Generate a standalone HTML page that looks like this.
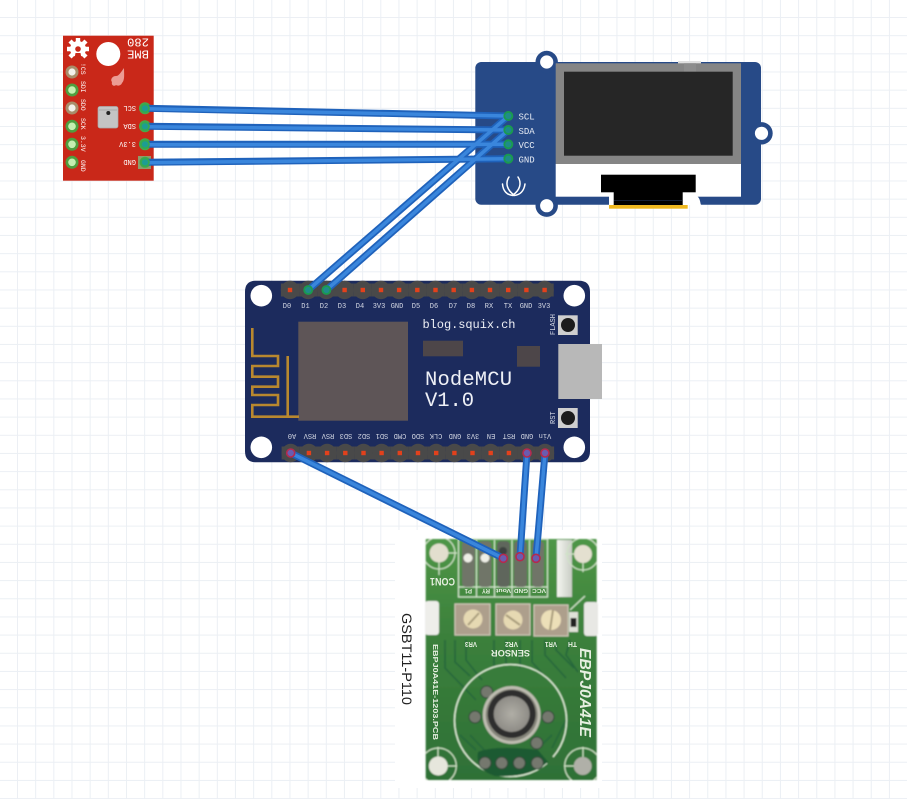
<!DOCTYPE html>
<html><head><meta charset="utf-8"><title>Diagram</title>
<style>
html,body{margin:0;padding:0;background:#fff}
svg{display:block}
text{font-family:"Liberation Mono",monospace}
.s{font-family:"Liberation Sans",sans-serif}
</style></head><body>
<svg width="907" height="799" viewBox="0 0 907 799" xmlns="http://www.w3.org/2000/svg">
<defs>
<pattern id="grid" x="17" y="17" width="18.165" height="18.165" patternUnits="userSpaceOnUse">
<path d="M.5 0V18.165M0 .5H18.165" stroke="#ebeff4" stroke-width="1" fill="none"/>
</pattern>
<filter id="b" x="-5%" y="-5%" width="110%" height="110%"><feGaussianBlur stdDeviation="0.9"/></filter>
<filter id="b2" x="-5%" y="-5%" width="110%" height="110%"><feGaussianBlur stdDeviation="0.3"/></filter>
<clipPath id="pc"><rect x="425.700" y="539" width="171" height="241"/></clipPath>
<g id="hp"><circle cx="0" cy="0" r="9.2" fill="#494949"/><rect x="-9.1" y="-6.500" width="18.2" height="13" fill="#494949"/><rect x="-2.2" y="-2.2" width="4.4" height="4.4" fill="#e2411c"/></g>
<radialGradient id="mesh"><stop offset="0" stop-color="#b0aea6"/><stop offset="1" stop-color="#8e8c86"/></radialGradient>
<linearGradient id="slot" x1="0" x2="1"><stop offset="0" stop-color="#f4f6f0"/><stop offset="1" stop-color="#c8ccc4"/></linearGradient>
<linearGradient id="pcbg" x1="0" x2="0" y1="0" y2="1"><stop offset="0" stop-color="#4e9646"/><stop offset=".4" stop-color="#3b803b"/><stop offset="1" stop-color="#2e7036"/></linearGradient>
</defs>
<rect width="907" height="799" fill="#fff"/>
<rect x="0" y="0" width="907" height="799" fill="url(#grid)"/>

<!-- white image background -->
<rect x="395" y="530" width="207" height="258" fill="#fff"/>

<!-- BME280 -->
<rect x="63" y="35.700" width="90.700" height="145" fill="#c92819"/>
<g fill="#fff">
<circle cx="108.300" cy="54" r="12"/>
<g transform="translate(78,49)">
<circle r="8"/>
<g stroke="#fff" stroke-width="4.400"><path d="M0-11V11M-11 0H11M-8-8L8 8M-8 8L8-8"/></g>
<circle r="2.800" fill="#c92819"/>
<path d="M-2.500 4L2.500 4L4 12L-4 12Z" fill="#c92819"/>
</g>
</g>
<path d="M124 68C124 74 125 80 122 83C121 86 117 86 116 85C114 87 111 85 112 82C110 80 112 76 116 76C119 76 121 72 124 68Z" fill="#ec9c94"/>
<text transform="translate(149 38.500) rotate(180)" fill="#fff" font-size="12" textLength="22" lengthAdjust="spacingAndGlyphs">280</text>
<text transform="translate(149 50.500) rotate(180)" fill="#fff" font-size="12" textLength="22" lengthAdjust="spacingAndGlyphs">BME</text>
<rect x="98" y="106.500" width="20" height="21.500" rx="2" fill="#c4c4c4" stroke="#aaa" stroke-width=".7"/>
<path d="M99 110H117" stroke="#a0a0a0" stroke-width=".7"/>
<circle cx="108.300" cy="113" r="2" fill="#222"/>
<!-- left pads -->
<circle cx="72" cy="72" r="6.500" fill="#a88d6a"/><circle cx="72" cy="72" r="3.600" fill="#f2f0ea"/>
<circle cx="72" cy="90" r="6.500" fill="#4f9e3f"/><circle cx="72" cy="90" r="3.800" fill="#c5eeb0"/>
<circle cx="72" cy="108" r="6.500" fill="#a88d6a"/><circle cx="72" cy="108" r="3.600" fill="#f2f0ea"/>
<circle cx="72" cy="126.300" r="6.500" fill="#4f9e3f"/><circle cx="72" cy="126.300" r="3.800" fill="#c5eeb0"/>
<circle cx="72" cy="144.300" r="6.500" fill="#4f9e3f"/><circle cx="72" cy="144.300" r="3.800" fill="#c5eeb0"/>
<circle cx="72" cy="162.300" r="6.500" fill="#4f9e3f"/><circle cx="72" cy="162.300" r="3.800" fill="#c5eeb0"/>
<g fill="#fff" font-size="6.500">
<text transform="translate(81 63) rotate(90)">!CS</text>
<text transform="translate(81 81) rotate(90)">SDI</text>
<text transform="translate(81 99) rotate(90)">SDO</text>
<text transform="translate(81 118) rotate(90)">SCK</text>
<text transform="translate(81 136) rotate(90)">3.3V</text>
<text transform="translate(81 160) rotate(90)">GND</text>
<text transform="translate(136 106) rotate(180)" font-size="7">SCL</text>
<text transform="translate(136 124) rotate(180)" font-size="7">SDA</text>
<text transform="translate(136 142) rotate(180)" font-size="7">3.3V</text>
<text transform="translate(136 160) rotate(180)" font-size="7">GND</text>
</g>
<rect x="138" y="156" width="13" height="13" fill="#8f9b6a"/>
<circle cx="145" cy="108.300" r="6" fill="#4aa84a"/>
<circle cx="145" cy="126.300" r="6" fill="#4aa84a"/>
<circle cx="145" cy="144.300" r="6" fill="#4aa84a"/>
<circle cx="145" cy="162.300" r="5.500" fill="#4aa84a"/>

<!-- OLED -->
<rect x="475.300" y="62" width="285.700" height="142.700" rx="6" fill="#274a87"/>
<circle cx="546.700" cy="62" r="11.200" fill="#274a87"/><circle cx="546.700" cy="62" r="6.600" fill="#fff"/>
<circle cx="546.700" cy="205.700" r="11.200" fill="#274a87"/><circle cx="546.700" cy="205.700" r="6.600" fill="#fff"/>
<circle cx="761.500" cy="133.300" r="11.200" fill="#274a87"/><circle cx="761.500" cy="133.300" r="6.600" fill="#fff"/>
<rect x="678" y="61" width="23" height="2.500" fill="#e0e0e0"/>
<rect x="555.700" y="164" width="185.300" height="32.700" fill="#fff"/>
<rect x="555.700" y="63.300" width="185.300" height="100.700" fill="#858585"/>
<rect x="684" y="63.300" width="12" height="8.400" fill="#8d8d8d"/>
<rect x="564" y="71.700" width="168.700" height="84" fill="#262626"/>
<path d="M609 196H697C701 199 700 205 701.500 205H609Z" fill="#fff"/>
<rect x="601" y="174.700" width="94.700" height="17.600" fill="#000"/>
<rect x="613.700" y="190" width="69" height="15.300" fill="#000"/>
<rect x="609" y="205" width="78.700" height="3.700" fill="#efb81f"/>
<path d="M614 200.500H682" stroke="#1e2b44" stroke-width=".7"/>
<g fill="#e6ebf4" font-size="9">
<text x="518.500" y="119.500">SCL</text>
<text x="518.500" y="133.800">SDA</text>
<text x="518.500" y="148">VCC</text>
<text x="518.500" y="162.500">GND</text>
</g>
<g fill="none" stroke="#fff" stroke-width="1.500" stroke-linecap="round">
<path d="M509 177C505 183 507 190 514 195"/>
<path d="M518 177C522 183 520 190 513 195"/>
<path d="M502.500 184C503 191 507 195 513 195.500"/>
<path d="M525 184C524 191 520 195 514 195.500"/>
</g>
<circle cx="508.300" cy="116" r="5" fill="#1a9a4f"/>
<circle cx="508.300" cy="130" r="5" fill="#1a9a4f"/>
<circle cx="508.300" cy="144.300" r="5" fill="#1a8c68"/>
<circle cx="508.300" cy="158.700" r="5" fill="#1a9a4f"/>

<!-- NodeMCU -->
<path d="M256 280.700H579Q590 280.700 590 291.700V344H602V399H590V451.300Q590 462.300 579 462.300H256Q245 462.300 245 451.300V291.700Q245 280.700 256 280.700Z" fill="#1c2b5d"/>
<circle cx="261.300" cy="295.700" r="10.800" fill="#fff"/>
<circle cx="574.300" cy="295.700" r="10.800" fill="#fff"/>
<circle cx="261.300" cy="447.300" r="10.800" fill="#fff"/>
<circle cx="574.300" cy="447.300" r="10.800" fill="#fff"/>
<rect x="558.300" y="344" width="43.700" height="55" fill="#b8b8b8"/>
<g>
<use href="#hp" x="290" y="290"/><use href="#hp" x="308.200" y="290"/><use href="#hp" x="326.400" y="290"/><use href="#hp" x="344.600" y="290"/><use href="#hp" x="362.800" y="290"/><use href="#hp" x="381" y="290"/><use href="#hp" x="399.100" y="290"/><use href="#hp" x="417.300" y="290"/><use href="#hp" x="435.500" y="290"/><use href="#hp" x="453.700" y="290"/><use href="#hp" x="471.900" y="290"/><use href="#hp" x="490" y="290"/><use href="#hp" x="508.200" y="290"/><use href="#hp" x="526.400" y="290"/><use href="#hp" x="544.600" y="290"/>
<use href="#hp" x="290.700" y="453"/><use href="#hp" x="308.900" y="453"/><use href="#hp" x="327.100" y="453"/><use href="#hp" x="345.300" y="453"/><use href="#hp" x="363.500" y="453"/><use href="#hp" x="381.600" y="453"/><use href="#hp" x="399.800" y="453"/><use href="#hp" x="418" y="453"/><use href="#hp" x="436.200" y="453"/><use href="#hp" x="454.400" y="453"/><use href="#hp" x="472.500" y="453"/><use href="#hp" x="490.700" y="453"/><use href="#hp" x="508.900" y="453"/><use href="#hp" x="527" y="453"/><use href="#hp" x="545" y="453"/>
</g>
<g fill="#d4d8e4" font-size="7" text-anchor="middle">
<text x="287" y="308">D0</text><text x="305.500" y="308">D1</text><text x="324" y="308">D2</text><text x="342" y="308">D3</text><text x="360" y="308">D4</text><text x="379" y="308">3V3</text><text x="397" y="308">GND</text><text x="416" y="308">D5</text><text x="434" y="308">D6</text><text x="453" y="308">D7</text><text x="471" y="308">D8</text><text x="489" y="308">RX</text><text x="508" y="308">TX</text><text x="526" y="308">GND</text><text x="544" y="308">3V3</text>
<text transform="translate(292 434) rotate(180)">A0</text>
<text transform="translate(310 434) rotate(180)">RSV</text>
<text transform="translate(328 434) rotate(180)">RSV</text>
<text transform="translate(346 434) rotate(180)">SD3</text>
<text transform="translate(364 434) rotate(180)">SD2</text>
<text transform="translate(382 434) rotate(180)">SD1</text>
<text transform="translate(400 434) rotate(180)">CMD</text>
<text transform="translate(418 434) rotate(180)">SDO</text>
<text transform="translate(436 434) rotate(180)">CLK</text>
<text transform="translate(455 434) rotate(180)">GND</text>
<text transform="translate(473 434) rotate(180)">3V3</text>
<text transform="translate(491 434) rotate(180)">EN</text>
<text transform="translate(509 434) rotate(180)">RST</text>
<text transform="translate(527 434) rotate(180)">GND</text>
<text transform="translate(545 434) rotate(180)">Vin</text>
</g>
<rect x="298.300" y="321.700" width="109.700" height="99" fill="#5e5557"/>
<rect x="423" y="340.700" width="40" height="15.600" fill="#4d4649"/>
<rect x="517" y="346" width="23" height="20.700" fill="#4d4649"/>
<g fill="none" stroke="#b8882f" stroke-width="2.600">
<path d="M252.300 328V356H278V366H252.300V376.700H278V386.700H252.300V395H278V405H252.300V416.700H299"/>
<path d="M287.700 356V416.700"/>
</g>
<text x="422.500" y="328" fill="#eef0f6" font-size="12" textLength="93">blog.squix.ch</text>
<text x="425" y="385" fill="#eef0f6" font-size="20.500" textLength="87">NodeMCU</text>
<text x="425" y="406" fill="#eef0f6" font-size="20.500" textLength="49">V1.0</text>
<rect x="558" y="315.300" width="19.700" height="19.700" fill="#cfcfcf"/><circle cx="568" cy="325" r="7" fill="#1c1c1c"/>
<rect x="558" y="408" width="19.700" height="20" fill="#cfcfcf"/><circle cx="568" cy="418" r="7" fill="#1c1c1c"/>
<g fill="#d4d8e4" font-size="7">
<text transform="translate(555 335) rotate(-90)">FLASH</text>
<text transform="translate(555 424) rotate(-90)">RST</text>
</g>

<!-- Gas sensor PCB -->
<g filter="url(#b)">
<rect x="425.700" y="539" width="171" height="241" rx="1" fill="url(#pcbg)"/>
<rect x="557" y="540" width="15" height="57" fill="url(#slot)"/>
<rect x="425" y="601" width="14" height="34" rx="3" fill="#eeeeea"/>
<rect x="584" y="602" width="14" height="34" rx="3" fill="#e8e8e4"/>
<g fill="none" stroke="#26683a" stroke-width="1.600">
<path d="M445 640L445 668L476 700M455 640L455 662L470 676M466 640V660L482 680M494 640V668M506 640V665M520 640V668M532 640V662L548 680M545 640L545 655L566 678M556 642V650L574 668M570 640L566 655L578 672"/>
<path d="M460 735L476 750M470 735L490 756M552 735L530 756M566 720L552 748"/>
</g>
<!-- corner mounts -->
<g clip-path="url(#pc)">
<g fill="none" stroke="#cfe3c6" stroke-width="1.200">
<circle cx="439" cy="553" r="16"/>
<circle cx="583" cy="554" r="16"/>
<circle cx="438.300" cy="766" r="18"/>
<circle cx="582.700" cy="766" r="18"/>
<path d="M439 562V575M448 553H457M583 563V572M574 554H565M438 757V747M447 766H457M583 757V747M574 766H564"/>
</g>
</g>
<circle cx="439" cy="553" r="9.500" fill="#e2dece"/>
<circle cx="583" cy="554" r="9" fill="#e4e0d0"/>
<circle cx="438.300" cy="766" r="9.500" fill="#e6e6dc"/>
<circle cx="582.700" cy="766" r="9" fill="#b0b0a8"/>
<!-- terminal block -->
<rect x="458.500" y="539" width="89" height="58" fill="none" stroke="#d6e8cf" stroke-width="1.200"/>
<path d="M458.500 587H547.500M476.500 540V597M494.500 540V597M512 540V597M529.500 540V597" stroke="#d6e8cf" stroke-width="1.200"/>
<rect x="462" y="541" width="13" height="46" rx="4" fill="#6f7468"/>
<rect x="478.500" y="541" width="13" height="46" rx="4" fill="#6f7468"/>
<rect x="497" y="541" width="13" height="46" rx="4" fill="#5f665c"/>
<rect x="514" y="541" width="13" height="46" rx="4" fill="#6a7064"/>
<rect x="532" y="541" width="12" height="46" rx="4" fill="#6f7468"/>
<circle cx="468" cy="558" r="4.500" fill="#eeeee6"/>
<circle cx="485" cy="558" r="4.500" fill="#eeeee6"/>
<circle cx="503" cy="551" r="4" fill="#3c4240"/>
<!-- pots -->
<g fill="#ad9f8c" stroke="#cfc8b8" stroke-width="1.200">
<rect x="455" y="604" width="35" height="31"/>
<rect x="496" y="604" width="34" height="31"/>
<rect x="534" y="605" width="34" height="31"/>
</g>
<circle cx="473" cy="619" r="9.500" fill="#e6d9b2"/><path d="M468 625L479 613" stroke="#a89c7c" stroke-width="2"/>
<circle cx="513" cy="620" r="9.500" fill="#e6d9b2"/><path d="M506 615L520 625" stroke="#a89c7c" stroke-width="2"/>
<circle cx="551" cy="620" r="10" fill="#ecdfb8"/><path d="M553 610L550 630" stroke="#a89c7c" stroke-width="2"/>
<rect x="569" y="612" width="9" height="20" fill="#dfe2d8"/><rect x="570.500" y="618" width="6" height="9" fill="#222"/>
<path d="M570 610L585 596" stroke="#cfe2c8" stroke-width="1.300"/>
<!-- ring and sensor -->
<path d="M547 763A56 56 0 1 1 553 757" fill="none" stroke="#dcebd4" stroke-width="1.500"/>
<path d="M478 752Q495 745 538 750L548 762Q530 778 495 776Q475 770 478 752Z" fill="#1f5a30"/>
<g fill="#74786e" stroke="#33483a" stroke-width="1">
<circle cx="475" cy="717" r="6"/><circle cx="548" cy="717" r="6"/><circle cx="486.700" cy="692" r="6"/><circle cx="536.700" cy="743" r="6"/>
<circle cx="485" cy="763" r="6"/><circle cx="501.700" cy="763" r="6"/><circle cx="519.300" cy="763" r="6"/><circle cx="537.300" cy="763" r="6"/>
</g>
<circle cx="511.700" cy="715" r="29" fill="#bdbcb0"/>
<circle cx="511.700" cy="715" r="26" fill="#85857a"/>
<circle cx="511.700" cy="714" r="24" fill="#2f2f2e"/>
<circle cx="511.700" cy="714" r="18" fill="url(#mesh)"/>
</g>
<g filter="url(#b2)" fill="#e6efe0">
<text class="s" transform="translate(472 589) rotate(180)" font-size="6" font-weight="bold">P1</text>
<text class="s" transform="translate(490 589) rotate(180)" font-size="6" font-weight="bold">RY</text>
<text class="s" transform="translate(511 589) rotate(180)" font-size="5" font-weight="bold" textLength="15" lengthAdjust="spacingAndGlyphs">Vout</text>
<text class="s" transform="translate(528 589) rotate(180)" font-size="5.500" font-weight="bold" textLength="14" lengthAdjust="spacingAndGlyphs">GND</text>
<text class="s" transform="translate(546 589) rotate(180)" font-size="5.500" font-weight="bold" textLength="14" lengthAdjust="spacingAndGlyphs">VCC</text>
<text class="s" transform="translate(455 578) rotate(180)" font-size="11" font-weight="bold" textLength="25" lengthAdjust="spacingAndGlyphs">CON1</text>
<text class="s" transform="translate(477 642) rotate(180)" font-size="7.500" font-weight="bold" textLength="12" lengthAdjust="spacingAndGlyphs">VR3</text>
<text class="s" transform="translate(518 642) rotate(180)" font-size="7.500" font-weight="bold" textLength="13" lengthAdjust="spacingAndGlyphs">VR2</text>
<text class="s" transform="translate(557 642) rotate(180)" font-size="7.500" font-weight="bold" textLength="12" lengthAdjust="spacingAndGlyphs">VR1</text>
<text class="s" transform="translate(577 642) rotate(180)" font-size="7.500" font-weight="bold" textLength="9" lengthAdjust="spacingAndGlyphs">TH</text>
<text class="s" transform="translate(530 650) rotate(180)" font-size="9" font-weight="bold" textLength="39" lengthAdjust="spacingAndGlyphs">SENSOR</text>
<text class="s" transform="translate(433 644) rotate(90)" font-size="7.500" font-weight="bold" textLength="96" lengthAdjust="spacingAndGlyphs">EBPJ0A41E-1203.PCB</text>
<text class="s" transform="translate(580 648) rotate(90)" font-size="15.500" font-weight="bold" font-style="italic" textLength="89" lengthAdjust="spacingAndGlyphs">EBPJ0A41E</text>
</g>
<text class="s" transform="translate(402 613) rotate(90)" fill="#222" font-size="14" textLength="92" lengthAdjust="spacingAndGlyphs">GSBT11-P110</text>

<!-- wires -->
<g fill="none" stroke-linecap="round">
<g stroke="#1f62bb" stroke-width="7">
<path d="M145 108.300L508.300 116"/><path d="M145 126.300L508.300 130"/><path d="M145 144.300L508.300 144.300"/><path d="M145 162.300L508.300 158.700"/>
<path d="M308.200 290L508.300 116"/><path d="M326.400 290L508.300 130"/>
<path d="M290.700 453L503.300 558.300"/><path d="M527 453L520 556.700"/><path d="M545 453L536 558.300"/>
</g>
<g stroke="#3a86dc" stroke-width="3.500">
<path d="M145 108.800L508.300 116"/><path d="M145 126.800L508.300 130"/><path d="M145 144.800L508.300 144.300"/><path d="M145 162.800L508.300 158.700"/>
<path d="M308.200 290L508.300 116"/><path d="M326.400 290L508.300 130"/>
<path d="M290.700 453L503.300 558.300"/><path d="M527 453L520 556.700"/><path d="M545 453L536 558.300"/>
</g>
</g>
<!-- wire ends -->
<g fill="#1d9d93" stroke="#35a950" stroke-width="1.800">
<circle cx="145" cy="108.300" r="4"/><circle cx="145" cy="126.300" r="4"/><circle cx="145" cy="144.300" r="4"/><circle cx="145" cy="162.300" r="4"/>
</g>
<g fill="#1f8c88" stroke="#1a9a4f" stroke-width="1.800">
<circle cx="508.300" cy="116" r="4"/><circle cx="508.300" cy="130" r="4"/><circle cx="508.300" cy="144.300" r="4"/><circle cx="508.300" cy="158.700" r="4"/>
<circle cx="308.200" cy="290" r="4"/><circle cx="326.400" cy="290" r="4"/>
</g>
<g fill="#6a5cb0" stroke="#b52a4e" stroke-width="1.600">
<circle cx="290.700" cy="453" r="4"/><circle cx="527" cy="453" r="4"/><circle cx="545" cy="453" r="4"/>
<circle cx="503.300" cy="558.300" r="4"/><circle cx="520" cy="556.700" r="4"/><circle cx="536" cy="558.300" r="4"/>
</g>
</svg>
</body></html>
